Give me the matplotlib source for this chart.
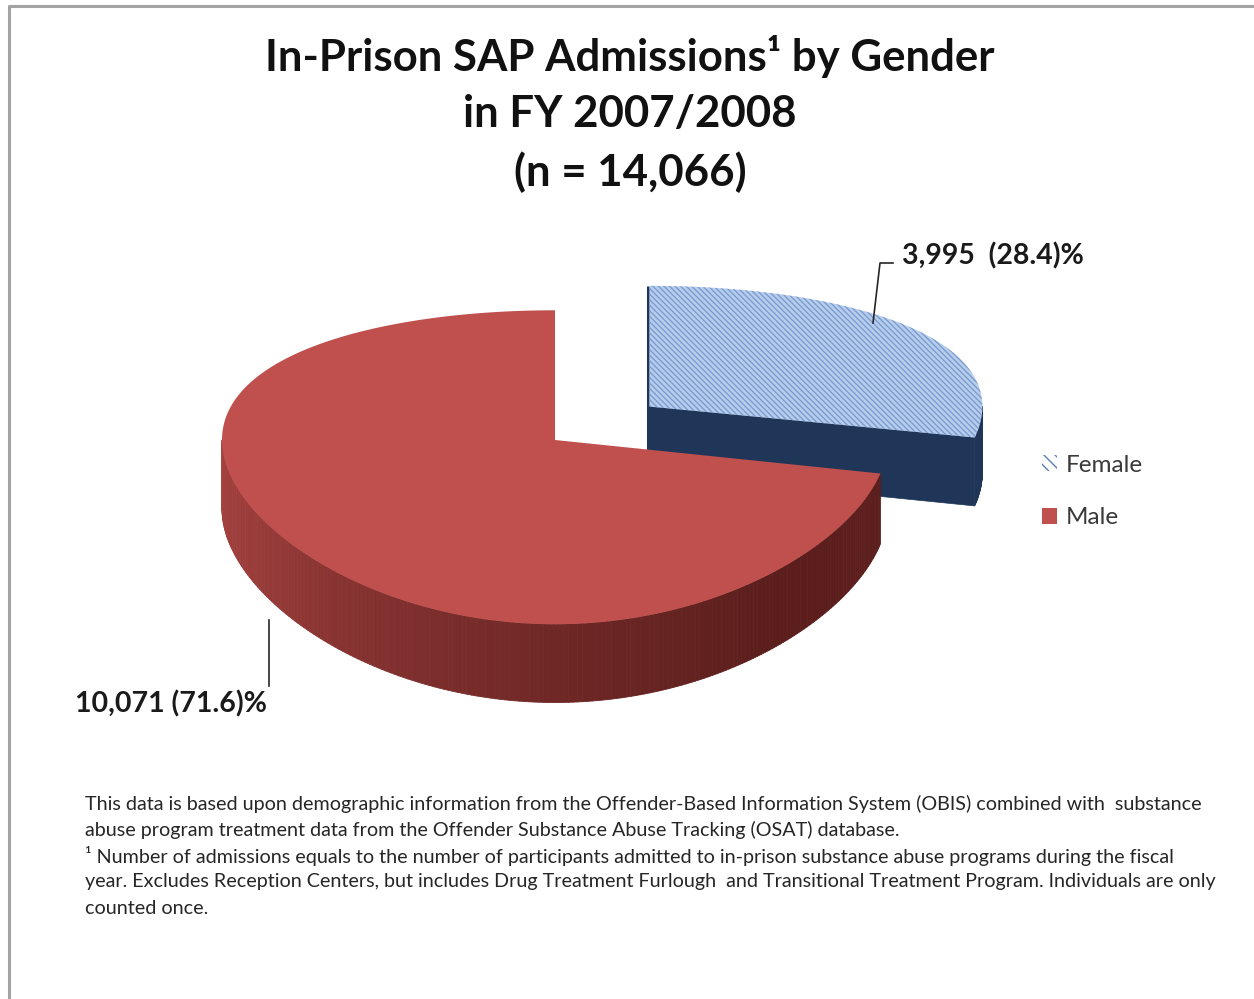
import numpy as np
import matplotlib
matplotlib.use("Agg")
import matplotlib.pyplot as plt
from matplotlib.patches import Polygon, Patch
from matplotlib.collections import PolyCollection
from matplotlib.colors import to_rgb

# ---- data -------------------------------------------------------------
categories = ["Female", "Male"]
admissions = [3995, 10071]
total_n = 14066
title_lines = ["In-Prison SAP Admissions\u00b9 by Gender",
               "in FY 2007/2008",
               "(n = 14,066)"]
footnote_lines = [
    "This data is based upon demographic information from the Offender-Based Information System (OBIS) combined with  substance",
    "abuse program treatment data from the Offender Substance Abuse Tracking (OSAT) database.",
    "\u00b9 Number of admissions equals to the number of participants admitted to in-prison substance abuse programs during the fiscal",
    "year. Excludes Reception Centers, but includes Drug Treatment Furlough  and Transitional Treatment Program. Individuals are only",
    "counted once.",
]

# ---- style ------------------------------------------------------------
BOLD = dict(family=["Lato", "DejaVu Sans"], weight="bold")
REG = dict(family=["Lato", "DejaVu Sans"])
plt.rcParams["hatch.linewidth"] = 1.0

top_colors = {"Female": "#b7cdeb", "Male": "#c0504d"}
hatch_color = "#7a9dd0"
female_side = "#1f3659"
male_side_stops = [(102, "#5c1f1d"), (140, "#5b1e1c"), (180, "#6f2826"),
                   (215, "#843230"), (245, "#9a3c3a"), (270, "#a5423f")]

# ---- 3-D pie geometry ---------------------------------------------------
PHI = np.radians(26.6)      # viewing elevation
DIST = 5.15                 # camera distance (in radii)
THICK = 0.23                # disc thickness (in radii)
EXPLODE = {"Female": 0.364, "Male": 0.0}
CX, CY, UX, UY = 555, 440, 333, 340   # pie centre / scale in figure pixels

W, H = 1254, 999
fig = plt.figure(figsize=(W / 100, H / 100), dpi=100)
ax = fig.add_axes([0, 0, 1, 1])
ax.set_xlim(0, W)
ax.set_ylim(H, 0)
ax.axis("off")


def project(x, y, z):
    yp = y * np.cos(PHI) - z * np.sin(PHI)
    zp = y * np.sin(PHI) + z * np.cos(PHI)
    s = DIST / (DIST - zp)
    return CX + UX * np.asarray(x), CY - UY * yp * s


def rim(theta, y, shift):
    t = np.radians(theta)
    return project(np.sin(t) + shift[0], y, -np.cos(t) + shift[1])


def centre(y, shift):
    return project(shift[0], y, shift[1])


values = np.array(admissions, dtype=float)
edges = np.concatenate([[0.0], np.cumsum(values / values.sum() * 360.0)])
slices = {}
for i, name in enumerate(categories):
    a0, a1 = edges[i], edges[i + 1]
    mid = np.radians((a0 + a1) / 2)
    e = EXPLODE[name]
    slices[name] = (a0, a1, (e * np.sin(mid), -e * np.cos(mid)))


def side_band(a0, a1, shift, n=200):
    th = np.linspace(a0, a1, n + 1)
    xt, yt = rim(th, 0.0, shift)
    xb, yb = rim(th, -THICK, shift)
    quads = []
    for k in range(n):
        quads.append([(xt[k], yt[k]), (xt[k + 1], yt[k + 1]),
                      (xb[k + 1], yb[k + 1]), (xb[k], yb[k])])
    return th, quads


def top_face(a0, a1, shift, n=300):
    th = np.linspace(a0, a1, n)
    xs, ys = rim(th, 0.0, shift)
    cx, cy = centre(0.0, shift)
    return np.column_stack([np.r_[cx, xs], np.r_[cy, ys]])


# Female slice (exploded, drawn first as it sits behind)
f0, f1, fs = slices["Female"]
_, quads = side_band(max(f0, 90.0), f1, fs, n=20)
ax.add_collection(PolyCollection(quads, facecolors=female_side,
                                 edgecolors=female_side, linewidths=0.5,
                                 zorder=1))
ct, cb = centre(0.0, fs), centre(-THICK, fs)
rt, rb = rim(f1, 0.0, fs), rim(f1, -THICK, fs)
ax.add_patch(Polygon([ct, rt, rb, cb], closed=True, facecolor=female_side,
                     edgecolor=female_side, lw=0.5, zorder=1))
bx, by = rim(f0, 0.0, fs)
ax.plot([bx - 1.5, cb[0] - 1.5], [by, cb[1]], color=female_side, lw=2.2,
        solid_capstyle="butt", zorder=1)
ax.add_patch(Polygon(top_face(f0, f1, fs), closed=True,
                     facecolor=top_colors["Female"], edgecolor=hatch_color,
                     hatch="\\" * 6, lw=0, zorder=1.1))

# Male slice
m0, m1, ms = slices["Male"]
th, quads = side_band(m0, 270.0, ms)
stop_t = [s[0] for s in male_side_stops]
stop_c = np.array([to_rgb(s[1]) for s in male_side_stops])
mids = (th[:-1] + th[1:]) / 2
cols = np.column_stack([np.interp(mids, stop_t, stop_c[:, j]) for j in range(3)])
ax.add_collection(PolyCollection(quads, facecolors=cols, edgecolors=cols,
                                 linewidths=0.6, zorder=1.2))
ax.add_patch(Polygon(top_face(m0, m1, ms), closed=True,
                     facecolor=top_colors["Male"], edgecolor="none",
                     zorder=1.3))

# ---- data labels with leader lines ---------------------------------------
pcts = values / values.sum() * 100
label_text = {
    "Female": f"{admissions[0]:,}  ({pcts[0]:.1f})%",
    "Male": f"{admissions[1]:,} ({pcts[1]:.1f})%",
}
ax.plot([873, 880, 893], [323, 263, 263], color="#262626", lw=1.2, zorder=3)
ax.text(902, 256, label_text["Female"], fontsize=20.5, color="#1a1a1a",
        ha="left", va="center", **BOLD)
ax.plot([269, 269], [620, 686], color="#262626", lw=1.2, zorder=3)
ax.text(75, 704, label_text["Male"], fontsize=20.5, color="#1a1a1a",
        ha="left", va="center", **BOLD)

# ---- title --------------------------------------------------------------
for yy, line in zip([57, 114, 172], title_lines):
    ax.text(630, yy, line, fontsize=31.5, color="#111111", ha="center",
            va="center", **BOLD)

# ---- legend -------------------------------------------------------------
handles = [Patch(facecolor="white", edgecolor="#5a7fb5", hatch="\\" * 3, lw=0),
           Patch(facecolor=top_colors["Male"], edgecolor="none")]
leg = fig.legend(handles, categories, loc="upper left",
                 bbox_to_anchor=(1020 / W, 1 - 433 / H), frameon=False,
                 handlelength=0.62, handleheight=0.62, handletextpad=0.38,
                 labelspacing=1.3, prop=dict(size=17.5, **REG))
for t in leg.get_texts():
    t.set_color("#3a3a3a")

# ---- footnote -----------------------------------------------------------
for k, line in enumerate(footnote_lines):
    ax.text(85, 804 + 26 * k, line, fontsize=14.2, color="#262626",
            ha="left", va="center", **REG)

# ---- frame ---------------------------------------------------------------
ax.plot([8, W], [6, 6], color="#a3a3a3", lw=2.2, solid_capstyle="butt")
ax.plot([9, 9], [5, H], color="#a3a3a3", lw=2.2, solid_capstyle="butt")

fig.savefig("out.png", dpi=100, facecolor="white")
